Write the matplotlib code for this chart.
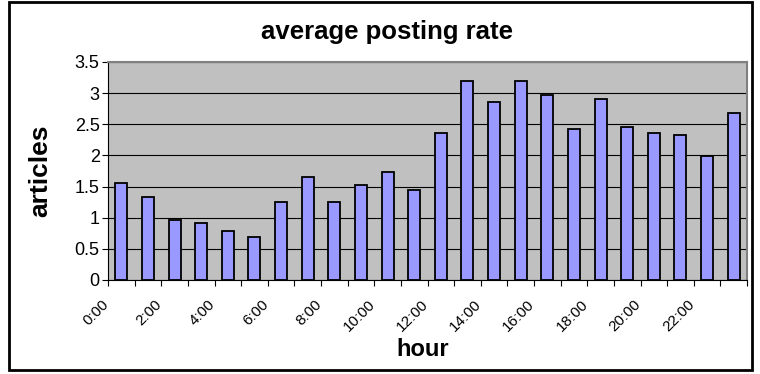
import numpy as np
import matplotlib.pyplot as plt
from matplotlib.patches import Rectangle
from matplotlib.transforms import ScaledTranslation

plt.rcParams['font.family'] = ['Liberation Sans', 'DejaVu Sans']

hours = ['%d:00' % h for h in range(24)]
rate = [1.55, 1.34, 0.97, 0.91, 0.79, 0.69, 1.26, 1.66,
        1.26, 1.52, 1.73, 1.45, 2.36, 3.19, 2.86, 3.19,
        2.97, 2.43, 2.90, 2.46, 2.36, 2.32, 1.99, 2.68]

W, H = 760, 374
fig = plt.figure(figsize=(W / 100, H / 100), dpi=100)
ax = fig.add_axes([108 / W, 1 - 280 / H, (747 - 108) / W, (280 - 62) / H])

x = np.arange(len(rate))
ax.bar(x, rate, width=0.45, color='#9999FF', edgecolor='black', linewidth=1.3, zorder=3)

ax.set_facecolor('#C0C0C0')
ax.set_xlim(-0.5, len(rate) - 0.5)
ax.set_ylim(0, 3.5)
ax.set_yticks(np.arange(0, 3.51, 0.5))
ax.set_yticklabels(['0', '0.5', '1', '1.5', '2', '2.5', '3', '3.5'])
ax.yaxis.grid(True, color='black', linewidth=0.8, zorder=1)

# ticks sit between categories, labels under every second bar
ax.set_xticks(np.arange(-0.5, len(rate), 1.0))
ax.set_xticklabels([])
ax.set_xticks(x[::2], minor=True)
ax.set_xticklabels(hours[::2], minor=True, rotation=45, ha='right',
                   va='center', rotation_mode='anchor')
ax.tick_params(axis='x', which='minor', length=0, pad=0, labelsize=11)
ax.tick_params(axis='x', which='major', length=4, width=0.8, direction='out')
ax.tick_params(axis='y', length=4, width=0.8, labelsize=13, pad=2)

shift = ScaledTranslation(-15 / 100, -22 / 100, fig.dpi_scale_trans)
for lbl in ax.get_xticklabels(minor=True):
    lbl.set_transform(lbl.get_transform() + shift)

for side in ['top', 'right']:
    ax.spines[side].set_color('#808080')
    ax.spines[side].set_linewidth(1.5)
for side in ['left', 'bottom']:
    ax.spines[side].set_color('black')
    ax.spines[side].set_linewidth(0.8)

fig.text(387 / W, 1 - 32 / H, 'average posting rate', ha='center', va='center',
         fontsize=18.5, fontweight='bold')
fig.text(40 / W, 1 - 171 / H, 'articles', ha='center', va='center',
         rotation=90, fontsize=19, fontweight='bold')
fig.text(423 / W, 1 - 349 / H, 'hour', ha='center', va='center',
         fontsize=17, fontweight='bold')

fig.patches.append(Rectangle((9 / W, 1 - 370 / H), (752 - 9) / W, (370 - 2) / H,
                             transform=fig.transFigure, fill=False,
                             edgecolor='black', linewidth=2))

fig.savefig('out.png', dpi=100)
